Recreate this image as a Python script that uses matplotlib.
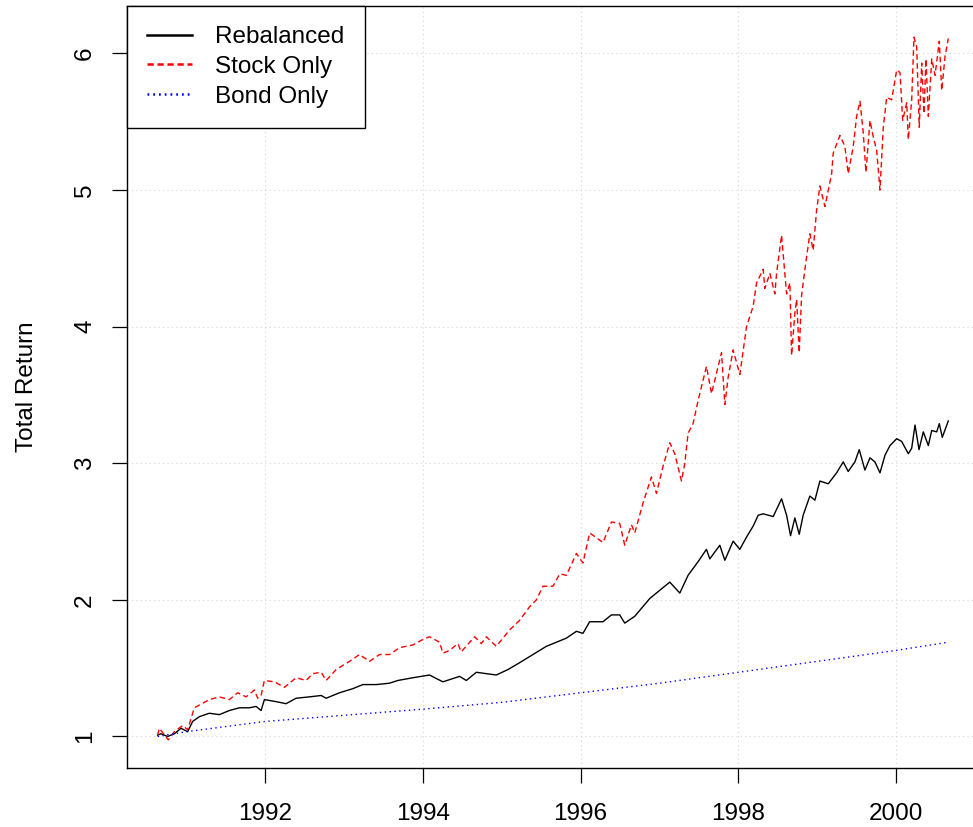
import matplotlib
matplotlib.use("Agg")
import matplotlib.pyplot as plt
from matplotlib.lines import Line2D

# values (decimal year, total return)
stock_years = [1990.637, 1990.659, 1990.773, 1990.849, 1990.954, 1991.018, 1991.103, 1991.293,
               1991.420, 1991.547, 1991.652, 1991.759, 1991.864, 1991.906, 1991.949, 1991.991,
               1992.118, 1992.245, 1992.393, 1992.520, 1992.604, 1992.711, 1992.774, 1992.901,
               1993.070, 1993.197, 1993.324, 1993.450, 1993.577, 1993.704, 1993.873, 1994.000,
               1994.085, 1994.212, 1994.254, 1994.339, 1994.444, 1994.487, 1994.656, 1994.741,
               1994.805, 1994.931, 1995.100, 1995.227, 1995.354, 1995.439, 1995.523, 1995.650,
               1995.735, 1995.820, 1995.947, 1996.030, 1996.115, 1996.284, 1996.391, 1996.496,
               1996.560, 1996.645, 1996.687, 1996.792, 1996.898, 1996.962, 1997.046, 1997.131,
               1997.194, 1997.279, 1997.321, 1997.363, 1997.426, 1997.490, 1997.596, 1997.660,
               1997.744, 1997.787, 1997.829, 1997.871, 1997.934, 1998.019, 1998.104, 1998.188,
               1998.231, 1998.315, 1998.336, 1998.400, 1998.463, 1998.485, 1998.548, 1998.590,
               1998.612, 1998.654, 1998.675, 1998.717, 1998.739, 1998.772, 1998.802, 1998.865,
               1998.907, 1998.949, 1998.992, 1999.034, 1999.098, 1999.140, 1999.183, 1999.203,
               1999.288, 1999.351, 1999.393, 1999.457, 1999.500, 1999.542, 1999.584, 1999.618,
               1999.669, 1999.711, 1999.754, 1999.796, 1999.838, 1999.881, 1999.944, 2000.008,
               2000.050, 2000.084, 2000.135, 2000.155, 2000.198, 2000.227, 2000.261, 2000.294,
               2000.325, 2000.354, 2000.379, 2000.409, 2000.452, 2000.494, 2000.548, 2000.579,
               2000.621, 2000.662]
stock_vals = [1.01, 1.06, 0.975, 1.035, 1.08, 1.05, 1.21, 1.27,
              1.29, 1.27, 1.32, 1.29, 1.34, 1.28, 1.30, 1.41,
              1.40, 1.36, 1.43, 1.41, 1.46, 1.47, 1.41, 1.49,
              1.55, 1.60, 1.55, 1.60, 1.60, 1.65, 1.67, 1.71,
              1.73, 1.69, 1.61, 1.63, 1.68, 1.62, 1.73, 1.68,
              1.73, 1.66, 1.78, 1.85, 1.95, 2.00, 2.10, 2.10,
              2.19, 2.18, 2.34, 2.27, 2.49, 2.42, 2.57, 2.56,
              2.40, 2.55, 2.49, 2.71, 2.90, 2.78, 2.98, 3.15,
              3.07, 2.87, 3.00, 3.22, 3.29, 3.46, 3.71, 3.51,
              3.71, 3.81, 3.43, 3.63, 3.83, 3.65, 4.00, 4.15,
              4.32, 4.42, 4.28, 4.39, 4.24, 4.39, 4.67, 4.39,
              4.24, 4.32, 3.79, 4.10, 4.20, 3.81, 4.23, 4.51,
              4.68, 4.56, 4.85, 5.03, 4.88, 5.00, 5.12, 5.27,
              5.40, 5.32, 5.12, 5.32, 5.54, 5.65, 5.42, 5.13,
              5.51, 5.39, 5.29, 5.00, 5.46, 5.68, 5.66, 5.88,
              5.86, 5.51, 5.64, 5.37, 5.66, 6.12, 6.05, 5.46,
              5.93, 5.56, 5.96, 5.54, 5.96, 5.84, 6.09, 5.73,
              5.98, 6.11]

rebal_years = [1990.637, 1990.680, 1990.764, 1990.849, 1990.934, 1991.018, 1991.081, 1991.166,
               1991.293, 1991.420, 1991.547, 1991.674, 1991.801, 1991.886, 1991.949, 1991.991,
               1992.140, 1992.266, 1992.393, 1992.562, 1992.711, 1992.774, 1992.943, 1993.112,
               1993.239, 1993.409, 1993.577, 1993.683, 1993.873, 1994.085, 1994.254, 1994.466,
               1994.551, 1994.678, 1994.931, 1995.079, 1995.227, 1995.396, 1995.566, 1995.693,
               1995.820, 1995.947, 1996.030, 1996.115, 1996.284, 1996.391, 1996.496, 1996.560,
               1996.687, 1996.877, 1996.982, 1997.131, 1997.258, 1997.363, 1997.490, 1997.596,
               1997.638, 1997.765, 1997.829, 1997.934, 1998.019, 1998.104, 1998.188, 1998.252,
               1998.315, 1998.442, 1998.548, 1998.612, 1998.662, 1998.717, 1998.772, 1998.822,
               1998.907, 1998.971, 1999.034, 1999.140, 1999.246, 1999.330, 1999.393, 1999.478,
               1999.533, 1999.605, 1999.669, 1999.732, 1999.796, 1999.860, 1999.923, 2000.008,
               2000.071, 2000.155, 2000.198, 2000.240, 2000.291, 2000.345, 2000.409, 2000.452,
               2000.515, 2000.548, 2000.586, 2000.662]
rebal_vals = [1.01, 1.02, 1.00, 1.02, 1.06, 1.035, 1.11, 1.145,
              1.17, 1.16, 1.19, 1.21, 1.21, 1.22, 1.19, 1.27,
              1.255, 1.24, 1.28, 1.29, 1.30, 1.28, 1.32, 1.35,
              1.38, 1.38, 1.39, 1.41, 1.43, 1.45, 1.40, 1.44,
              1.41, 1.47, 1.45, 1.49, 1.54, 1.60, 1.66, 1.69,
              1.72, 1.77, 1.755, 1.84, 1.84, 1.89, 1.89, 1.83,
              1.88, 2.01, 2.06, 2.13, 2.05, 2.18, 2.28, 2.37,
              2.30, 2.40, 2.29, 2.43, 2.37, 2.46, 2.54, 2.62,
              2.63, 2.61, 2.74, 2.62, 2.47, 2.60, 2.48, 2.62,
              2.76, 2.73, 2.87, 2.85, 2.93, 3.01, 2.94, 3.01,
              3.10, 2.95, 3.04, 3.01, 2.93, 3.06, 3.13, 3.18,
              3.16, 3.07, 3.11, 3.28, 3.10, 3.23, 3.13, 3.24,
              3.23, 3.29, 3.19, 3.31]

bond_years = [1990.637, 1991.0, 1992.0, 1993.0, 1994.0, 1995.0, 1996.0, 1997.0,
              1998.0, 1999.0, 2000.0, 2000.662]
bond_vals = [1.00, 1.035, 1.11, 1.155, 1.20, 1.25, 1.32, 1.39, 1.47, 1.55, 1.63, 1.69]

labels = ["Rebalanced", "Stock Only", "Bond Only"]
xticks = [1992, 1994, 1996, 1998, 2000]
yticks = [1, 2, 3, 4, 5, 6]

plt.rcParams['font.family'] = ['Liberation Sans', 'DejaVu Sans']
plt.rcParams['font.size'] = 17.5

fig = plt.figure(figsize=(9.73, 8.27), dpi=100)
ax = fig.add_axes([0.1302, 0.0713, 0.8718, 0.9220])

ax.set_xlim(1990.245, 2001.0)
ax.set_ylim(0.769, 6.351)

for t in xticks:
    ax.axvline(t, color='lightgray', lw=0.8, dashes=(1, 3), zorder=0)
for v in yticks:
    ax.axhline(v, color='lightgray', lw=0.8, dashes=(1, 3), zorder=0)

ax.plot(rebal_years, rebal_vals, color='black', lw=1.0)
ax.plot(stock_years, stock_vals, color='red', lw=1.0, dashes=(4, 2.5))
ax.plot(bond_years, bond_vals, color='blue', lw=1.0, dashes=(1, 2.5))

ax.set_xticks(xticks)
ax.set_xticklabels([str(t) for t in xticks])
ax.set_yticks(yticks)
ax.set_yticklabels([str(v) for v in yticks])
ax.tick_params(axis='both', direction='out', length=11, width=0.9, color='black')
ax.tick_params(axis='x', pad=14)
ax.tick_params(axis='y', pad=11)
plt.setp(ax.get_yticklabels(), rotation=90, va='center')

ax.set_ylabel("Total Return", labelpad=26)

for s in ax.spines.values():
    s.set_linewidth(1.0)
    s.set_color('black')

handles = [Line2D([], [], color='black', lw=1.8),
           Line2D([], [], color='red', lw=1.8, dashes=(2.5, 1.5)),
           Line2D([], [], color='blue', lw=1.8, dashes=(0.7, 1.6))]
leg = ax.legend(handles, labels, loc='upper left', borderaxespad=0, fancybox=False,
                edgecolor='black', framealpha=1, handlelength=1.85, handletextpad=0.95,
                borderpad=0.85, labelspacing=0.32)
leg.get_frame().set_linewidth(1.0)

fig.savefig("out.png", dpi=100, facecolor='white')
